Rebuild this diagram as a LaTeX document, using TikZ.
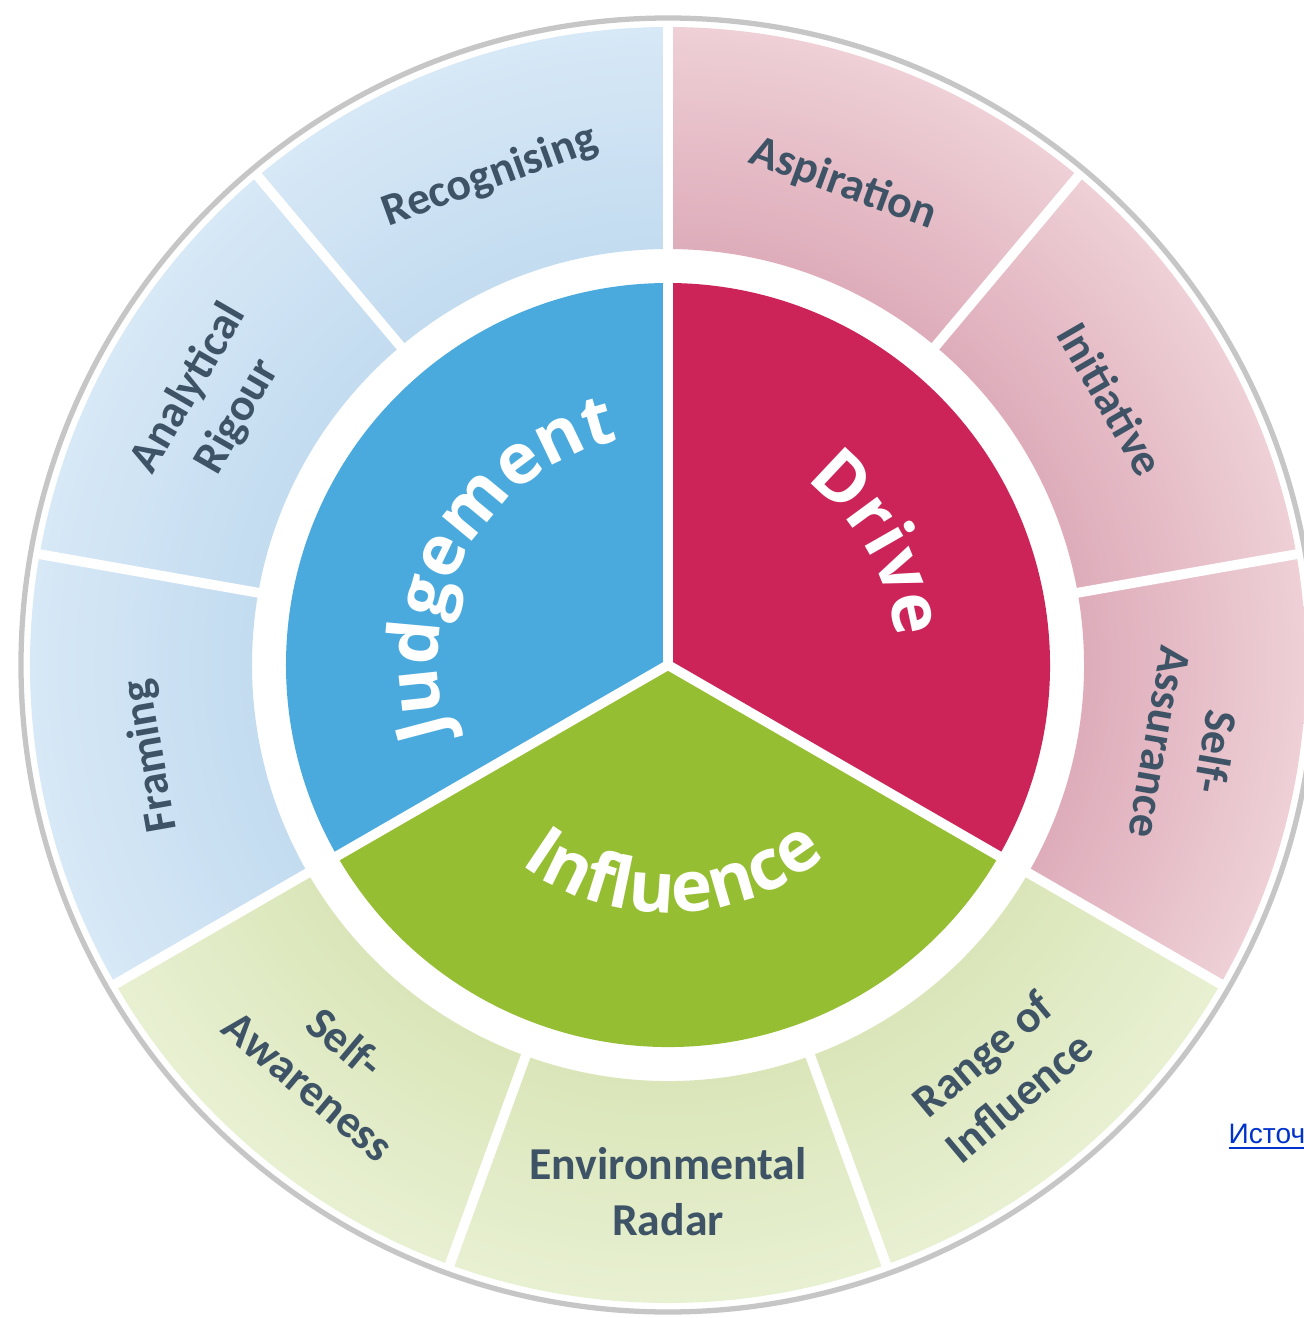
\documentclass[tikz,border=0pt]{standalone}
\usepackage{fontspec}
\setmainfont{Carlito}
\newfontfamily\corefont{Open Sans}
\newfontfamily\linkfont{Liberation Sans}
\usetikzlibrary{decorations.text}

\definecolor{judgeblue}{RGB}{74,170,222}
\definecolor{drivered}{RGB}{204,36,88}
\definecolor{influgreen}{RGB}{150,190,50}
\definecolor{bluecore}{RGB}{157,197,229}
\definecolor{bluerim}{RGB}{215,232,246}
\definecolor{pinkcore}{RGB}{192,105,134}
\definecolor{pinkrim}{RGB}{238,208,214}
\definecolor{greencore}{RGB}{192,211,138}
\definecolor{greenrim}{RGB}{232,240,210}
\definecolor{skilltext}{RGB}{62,84,102}
\definecolor{linkblue}{RGB}{0,51,204}

\newcommand{\corestyle}{\corefont\bfseries\fontsize{20}{24}\selectfont}

\begin{document}
\begin{tikzpicture}[
    skill/.style={
        font=\bfseries\fontsize{13}{16}\selectfont,
        text=skilltext,
        align=center,
        inner sep=0pt
    },
    divider/.style={white, line width=2.8pt},
    core/.style={
        decorate,
        decoration={text along path, text align=center, text color=white, text={#1}}
    }
]

\useasboundingbox (-6.68,-6.53) rectangle (6.36,6.65);
\clip (-6.68,-6.53) rectangle (6.36,6.65);

\draw[gray!45, line width=1.5pt, fill=white] (0,0) circle (6.47);

\begin{scope}
\clip (90:4.16) arc[start angle=90, end angle=210, radius=4.16] -- (210:6.38) arc[start angle=210, end angle=90, radius=6.38] -- cycle;
\shade[inner color=bluecore, outer color=bluerim] (0,0) circle (6.38);
\end{scope}
\begin{scope}
\clip (210:4.16) arc[start angle=210, end angle=330, radius=4.16] -- (330:6.38) arc[start angle=330, end angle=210, radius=6.38] -- cycle;
\shade[inner color=greencore, outer color=greenrim] (0,0) circle (6.38);
\end{scope}
\begin{scope}
\clip (-30:4.16) arc[start angle=-30, end angle=90, radius=4.16] -- (90:6.38) arc[start angle=90, end angle=-30, radius=6.38] -- cycle;
\shade[inner color=pinkcore, outer color=pinkrim] (0,0) circle (6.38);
\end{scope}

\fill[judgeblue] (0,0) -- (90:3.82) arc[start angle=90, end angle=210, radius=3.82] -- cycle;
\fill[influgreen] (0,0) -- (210:3.82) arc[start angle=210, end angle=330, radius=3.82] -- cycle;
\fill[drivered] (0,0) -- (-30:3.82) arc[start angle=-30, end angle=90, radius=3.82] -- cycle;

\draw[divider] (0,0) -- (90:6.42);
\draw[divider] (0,0) -- (210:6.42);
\draw[divider] (0,0) -- (330:6.42);
\draw[divider] (130:4.0) -- (130:6.42);
\draw[divider] (170:4.0) -- (170:6.42);
\draw[divider] (250:4.0) -- (250:6.42);
\draw[divider] (290:4.0) -- (290:6.42);
\draw[divider] (10:4.0) -- (10:6.42);
\draw[divider] (50:4.0) -- (50:6.42);

\path[core={|\corestyle|Judgement}] (205:2.3) arc[start angle=205, end angle=95, radius=2.3];
\path[core={|\corestyle|Drive}] (70:2.3) arc[start angle=70, end angle=-10, radius=2.3];
\path[core={|\corestyle|Influence}] (220:2.48) arc[start angle=220, end angle=323, radius=2.48];

\node[skill, rotate=20] (recognising) at (110:5.2) {Recognising};
\node[skill, rotate=60] (rigour) at (150:5.25) {Analytical\\Rigour};
\node[skill, rotate=100] (framing) at (190:5.25) {Framing};
\node[skill, rotate=-40] (awareness) at (229.5:5.25) {Self-\\Awareness};
\node[skill] (radar) at (270:5.27) {Environmental\\Radar};
\node[skill, rotate=40] (range) at (309:5.28) {Range of\\Influence};
\node[skill, rotate=-100] (assurance) at (351:5.27) {Self-\\Assurance};
\node[skill, rotate=-60] (initiative) at (31:5.17) {Initiative};
\node[skill, rotate=-20] (aspiration) at (70:5.12) {Aspiration};

\node[anchor=base west, font=\linkfont\fontsize{8}{10}\selectfont, text=linkblue, inner sep=0pt] (source) at (5.60,-4.78) {\underline{Источ}};

\end{tikzpicture}
\end{document}
